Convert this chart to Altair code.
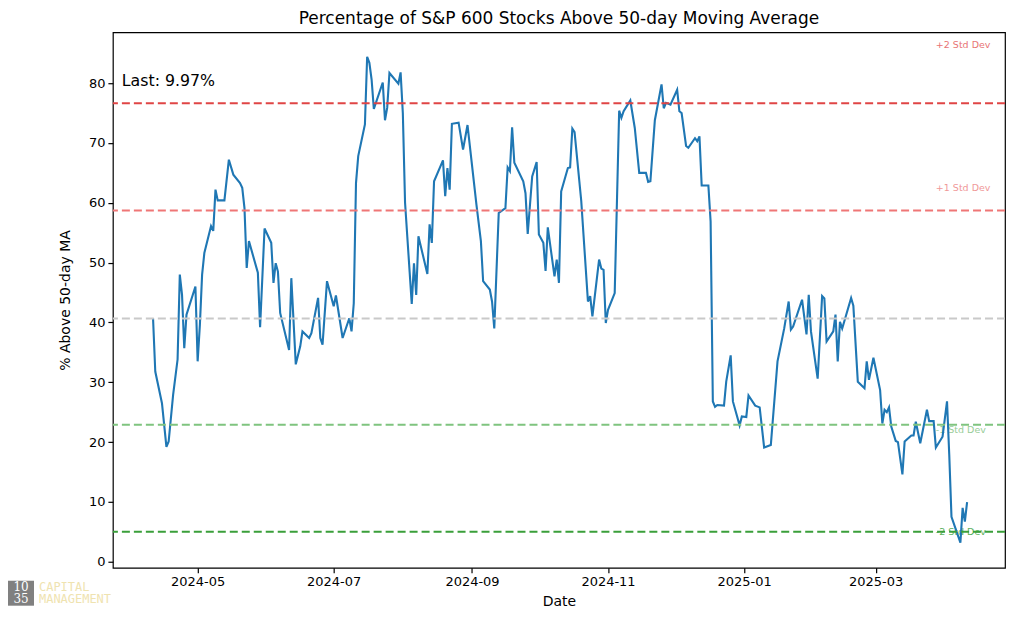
import altair as alt
import pandas as pd

# ---- data ----
START = "2024-05-01"  # day offsets below count from this date
DAY_OFFSETS = [
    -20, -19, -16, -14, -13, -11, -9, -8, -7, -6, -5, -1, 0, 1, 2, 3, 6, 7, 8, 9,
    12, 14, 16, 19, 20, 21, 22, 23, 27, 28, 30, 33, 34, 35, 36, 37, 41, 42, 44,
    46, 47, 50, 51, 54, 55, 56, 58, 61, 62, 65, 68, 69, 70, 71, 72, 75, 76, 77, 78,
    79, 83, 84, 85, 86, 90, 91, 92, 93, 96, 97, 98, 99, 103, 104, 105, 106,
    110, 111, 112, 113, 114, 117, 119, 121, 125, 127, 128, 131, 132, 133, 135, 138,
    139, 140, 141, 142, 146, 147, 148, 150, 152, 153, 155, 156, 157, 160, 161, 162,
    163, 166, 167, 168, 169, 172, 175, 176, 177,
    180, 181, 182, 183, 184, 187, 189, 190, 191, 194, 196, 198, 201, 202, 203, 205,
    208, 209, 210, 212, 215, 216, 217, 219, 220, 223, 224, 225, 226, 229, 230, 231,
    232, 233, 236, 237, 239,
    240, 243, 244, 246, 247, 250, 252, 254, 257, 260, 263, 265, 266, 267, 271, 273,
    274, 275, 278, 280, 281, 282, 285, 286, 287, 288, 289, 293, 294, 296, 299, 300,
    301, 303, 306,
    307, 308, 309, 310, 311, 313, 314, 316, 317, 320, 321, 322, 324, 327, 328, 330,
    331, 334, 336, 337, 338, 342, 343, 344, 345,
]
PCT_ABOVE = [
    40.7, 31.8, 26.5, 19.2, 20.1, 27.9, 33.8, 48.0, 44.6, 35.7, 41.3, 46.0, 33.5, 39.6, 48.0, 51.6, 56.1, 55.3, 62.2, 60.4,
    60.4, 67.2, 64.7, 63.3, 62.5, 59.1, 49.1, 53.6, 48.3, 39.2, 55.7, 53.3, 46.6, 49.9, 48.5, 41.6, 35.4, 47.4, 33.0,
    36.0, 38.5, 37.4, 38.2, 44.1, 37.4, 36.3, 46.9, 42.7, 44.5, 37.4, 40.7, 38.5, 43.2, 63.3, 67.8, 73.1, 84.4, 83.4, 80.6,
    75.7, 80.1, 73.8, 75.9, 81.7, 79.9, 81.8, 75.0, 60.0, 43.1, 49.9, 44.6, 54.4, 48.1, 56.4, 53.3, 63.6,
    67.1, 61.1, 65.8, 62.2, 73.2, 73.4, 68.9, 73.0, 59.7, 53.6, 46.9, 45.5, 43.5, 39.0, 58.3, 59.1,
    65.9, 65.3, 72.6, 66.7, 63.6, 61.6, 54.8, 64.4, 66.8, 54.7, 53.3, 48.6, 55.9, 47.7, 50.5, 46.6,
    61.9, 65.8, 65.9, 72.4, 71.8, 60.3, 43.5, 44.4, 41.0,
    50.5, 49.0, 48.8, 39.9, 42.1, 44.9, 75.4, 74.2, 75.3, 77.1, 72.5, 65.0, 65.0, 63.5, 63.6, 73.8,
    79.8, 75.8, 76.7, 76.4, 78.9, 75.3, 75.0, 69.5, 69.2, 70.8, 70.3, 71.1, 62.9, 62.9, 56.9, 26.8,
    25.9, 26.2, 26.1, 30.1, 34.5,
    26.8, 22.8, 24.3, 24.2, 27.8, 26.1, 25.8, 19.1, 19.5, 33.5, 39.0, 43.5, 38.8, 39.3, 43.8, 38.0,
    44.6, 38.5, 30.6, 44.4, 44.0, 36.8, 38.5, 41.3, 33.5, 40.1, 39.0, 44.1, 42.8, 30.1, 29.0, 33.5,
    30.4, 34.1, 28.7,
    23.1, 25.4, 25.0, 25.8, 22.6, 20.2, 20.0, 14.6, 20.1, 21.1, 21.1, 23.4, 19.8, 25.4, 23.5, 23.5,
    19.1, 20.9, 26.8, 17.9, 7.5, 3.2, 9.0, 6.7, 9.97,
]

LEVEL_NAMES = ["+2 Std Dev", "+1 Std Dev", "Mean", "-1 Std Dev", "-2 Std Dev"]
LEVEL_VALUES = [76.65, 58.7, 40.67, 22.9, 5.02]
LEVEL_COLORS = ["#e04545", "#ef7676", "#c9c9c9", "#7fc47f", "#3a9f3a"]

LABEL_TEXTS = ["+2 Std Dev", "+1 Std Dev", "-1 Std Dev", "-2 Std Dev"]
LABEL_VALUES = [86.3, 62.4, 22.1, 5.0]
LABEL_COLORS = ["#e87474", "#f09898", "#98cc98", "#5cb05c"]
LABEL_DATE = "2025-03-28"

LAST_TEXT = "Last: 9.97%"
LAST_DATE = "2024-03-28"
LAST_Y = 80.3

X_TICKS = ["2024-05-01", "2024-07-01", "2024-09-01", "2024-11-01", "2025-01-01", "2025-03-01"]
X_DOMAIN = ["2024-03-24", "2025-04-28"]
Y_DOMAIN = [-1.0, 88.5]
Y_TICKS = [0, 10, 20, 30, 40, 50, 60, 70, 80]

# ---- tables ----
dates = (pd.Timestamp(START) + pd.to_timedelta(DAY_OFFSETS, unit="D")).strftime("%Y-%m-%d")
df = pd.DataFrame({"date": dates, "pct": PCT_ABOVE})
levels = pd.DataFrame({"name": LEVEL_NAMES, "value": LEVEL_VALUES})
labels = pd.DataFrame({"text": LABEL_TEXTS, "value": LABEL_VALUES,
                       "date": [LABEL_DATE] * len(LABEL_TEXTS)})
last = pd.DataFrame({"text": [LAST_TEXT], "date": [LAST_DATE], "value": [LAST_Y]})
one = pd.DataFrame({"k": [0]})


def dt(s):
    t = pd.Timestamp(s)
    return alt.DateTime(year=t.year, month=t.month, date=t.day, utc=True)


FONT = "DejaVu Sans"
xscale = alt.Scale(type="utc", domain=[dt(d) for d in X_DOMAIN], nice=False)
yscale = alt.Scale(domain=Y_DOMAIN, nice=False, zero=False)

xaxis = alt.Axis(values=[dt(d) for d in X_TICKS], format="%Y-%m", grid=False, domain=False,
                 tickColor="black", tickSize=5, tickWidth=1.2, labelFontSize=13, labelColor="black",
                 titleFontSize=14, titleColor="black", titleFontWeight="normal",
                 labelPadding=3, titlePadding=6, labelFont=FONT, titleFont=FONT)
yaxis = alt.Axis(values=Y_TICKS, grid=False, domain=False, tickColor="black", tickSize=5,
                 tickWidth=1.2, labelFontSize=13, labelColor="black", titleFontSize=14,
                 titleColor="black", titleFontWeight="normal", labelPadding=3, titlePadding=16,
                 labelFont=FONT, titleFont=FONT)

line = alt.Chart(df).mark_line(color="#1f77b4", strokeWidth=2.1).encode(
    x=alt.X("date:T", scale=xscale, axis=xaxis, title="Date"),
    y=alt.Y("pct:Q", scale=yscale, axis=yaxis, title="% Above 50-day MA"),
)

rules = alt.Chart(levels).mark_rule(strokeWidth=2, strokeDash=[8, 4]).encode(
    y=alt.Y("value:Q", scale=yscale),
    color=alt.Color("name:N", scale=alt.Scale(domain=LEVEL_NAMES, range=LEVEL_COLORS), legend=None),
)

std_text = alt.Chart(labels).mark_text(align="left", baseline="middle", fontSize=9.5, font=FONT).encode(
    x=alt.X("date:T", scale=xscale),
    y=alt.Y("value:Q", scale=yscale),
    text="text:N",
    color=alt.Color("text:N", scale=alt.Scale(domain=LABEL_TEXTS, range=LABEL_COLORS), legend=None),
)

last_text = alt.Chart(last).mark_text(align="left", baseline="middle", fontSize=15.8, font=FONT,
                                      color="black").encode(
    x=alt.X("date:T", scale=xscale),
    y=alt.Y("value:Q", scale=yscale),
    text="text:N",
)

# ---- logo (decoration below the axes, left corner) ----
logo_box = alt.Chart(one).mark_rect(color="#808080").encode(
    x=alt.value(-105), x2=alt.value(-79), y=alt.value(549), y2=alt.value(574))
logo_10 = alt.Chart(one).mark_text(text="10", color="white", font="DejaVu Serif", fontSize=12,
                                   baseline="middle").encode(x=alt.value(-92), y=alt.value(555.5))
logo_35 = alt.Chart(one).mark_text(text="35", color="white", font="DejaVu Serif", fontSize=12,
                                   baseline="middle").encode(x=alt.value(-92), y=alt.value(567.5))
logo_cap = alt.Chart(one).mark_text(text="CAPITAL", color="#efe3b0", font="DejaVu Sans Mono",
                                    fontSize=12, align="left", baseline="middle").encode(
    x=alt.value(-74), y=alt.value(555.5))
logo_man = alt.Chart(one).mark_text(text="MANAGEMENT", color="#efe3b0", font="DejaVu Sans Mono",
                                    fontSize=12, align="left", baseline="middle").encode(
    x=alt.value(-74), y=alt.value(567.5))

chart = alt.layer(
    std_text, line, rules, last_text, logo_box, logo_10, logo_35, logo_cap, logo_man
).resolve_scale(color="independent").properties(
    width=893, height=536,
    title=alt.TitleParams("Percentage of S&P 600 Stocks Above 50-day Moving Average",
                          fontSize=17, fontWeight="normal", color="black", font=FONT, offset=4),
    autosize=alt.AutoSizeParams(type="none"),
    padding={"left": 105, "top": 24, "right": 5, "bottom": 40},
).configure(font=FONT).configure_view(stroke="black", strokeWidth=1.2)

chart.save("out.html", embed_options={"renderer": "svg", "actions": False})
